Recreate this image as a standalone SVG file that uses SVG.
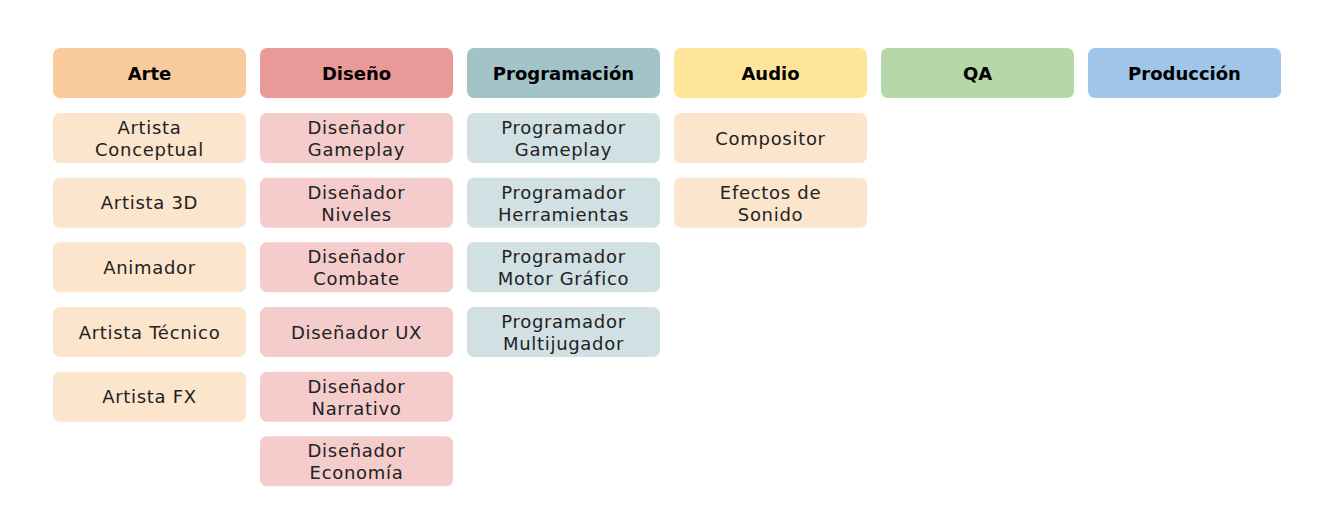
<svg xmlns="http://www.w3.org/2000/svg" width="1322" height="524" viewBox="0 0 1322 524">
<style>
text{font-family:"DejaVu Sans","Liberation Sans",sans-serif;text-anchor:middle}
.h text{font-weight:bold;font-size:18px;fill:#000}
.s text{font-size:18px;fill:#222;letter-spacing:0.7px}
rect{rx:7px;ry:7px}
.c1h{fill:#F9CB9C}.c1s{fill:#FCE5CD}
.c2h{fill:#EA9999}.c2s{fill:#F4CCCC}
.c3h{fill:#A2C4C9}.c3s{fill:#D0E0E3}
.c4h{fill:#FFE599}
.c5h{fill:#B6D7A8}
.c6h{fill:#9FC5E8}
</style>
<rect x="0" y="0" width="1322" height="524" fill="#fff" rx="0" ry="0"/>
<g id="headers" class="h">
<g id="h-arte"><rect class="c1h" x="53" y="48" width="193" height="50"/><text x="149.5" y="79.5">Arte</text></g>
<g id="h-diseno"><rect class="c2h" x="260" y="48" width="193" height="50"/><text x="356.5" y="79.5">Diseño</text></g>
<g id="h-prog"><rect class="c3h" x="467" y="48" width="193" height="50"/><text x="563.5" y="79.5">Programación</text></g>
<g id="h-audio"><rect class="c4h" x="674" y="48" width="193" height="50"/><text x="770.5" y="79.5">Audio</text></g>
<g id="h-qa"><rect class="c5h" x="881" y="48" width="193" height="50"/><text x="977.5" y="79.5">QA</text></g>
<g id="h-prod"><rect class="c6h" x="1088" y="48" width="193" height="50"/><text x="1184.5" y="79.5">Producción</text></g>
</g>
<g id="arte" class="s">
<g id="a1"><rect class="c1s" x="53" y="113" width="193" height="50"/><text x="149.5" y="134">Artista</text><text x="149.5" y="156">Conceptual</text></g>
<g id="a2"><rect class="c1s" x="53" y="177.7" width="193" height="50"/><text x="149.5" y="209.2">Artista 3D</text></g>
<g id="a3"><rect class="c1s" x="53" y="242.3" width="193" height="50"/><text x="149.5" y="273.8">Animador</text></g>
<g id="a4"><rect class="c1s" x="53" y="307" width="193" height="50"/><text x="149.5" y="338.5">Artista Técnico</text></g>
<g id="a5"><rect class="c1s" x="53" y="371.7" width="193" height="50"/><text x="149.5" y="403.2">Artista FX</text></g>
</g>
<g id="diseno" class="s">
<g id="d1"><rect class="c2s" x="260" y="113" width="193" height="50"/><text x="356.5" y="134">Diseñador</text><text x="356.5" y="156">Gameplay</text></g>
<g id="d2"><rect class="c2s" x="260" y="177.7" width="193" height="50"/><text x="356.5" y="198.7">Diseñador</text><text x="356.5" y="220.7">Niveles</text></g>
<g id="d3"><rect class="c2s" x="260" y="242.3" width="193" height="50"/><text x="356.5" y="263.3">Diseñador</text><text x="356.5" y="285.3">Combate</text></g>
<g id="d4"><rect class="c2s" x="260" y="307" width="193" height="50"/><text x="356.5" y="338.5">Diseñador UX</text></g>
<g id="d5"><rect class="c2s" x="260" y="371.7" width="193" height="50"/><text x="356.5" y="392.7">Diseñador</text><text x="356.5" y="414.7">Narrativo</text></g>
<g id="d6"><rect class="c2s" x="260" y="436.3" width="193" height="50"/><text x="356.5" y="457.3">Diseñador</text><text x="356.5" y="479.3">Economía</text></g>
</g>
<g id="prog" class="s">
<g id="p1"><rect class="c3s" x="467" y="113" width="193" height="50"/><text x="563.5" y="134">Programador</text><text x="563.5" y="156">Gameplay</text></g>
<g id="p2"><rect class="c3s" x="467" y="177.7" width="193" height="50"/><text x="563.5" y="198.7">Programador</text><text x="563.5" y="220.7">Herramientas</text></g>
<g id="p3"><rect class="c3s" x="467" y="242.3" width="193" height="50"/><text x="563.5" y="263.3">Programador</text><text x="563.5" y="285.3">Motor Gráfico</text></g>
<g id="p4"><rect class="c3s" x="467" y="307" width="193" height="50"/><text x="563.5" y="328">Programador</text><text x="563.5" y="350">Multijugador</text></g>
</g>
<g id="audio" class="s">
<g id="au1"><rect class="c1s" x="674" y="113" width="193" height="50"/><text x="770.5" y="144.5">Compositor</text></g>
<g id="au2"><rect class="c1s" x="674" y="177.7" width="193" height="50"/><text x="770.5" y="198.7">Efectos de</text><text x="770.5" y="220.7">Sonido</text></g>
</g>
<g id="connectors"/>
</svg>
